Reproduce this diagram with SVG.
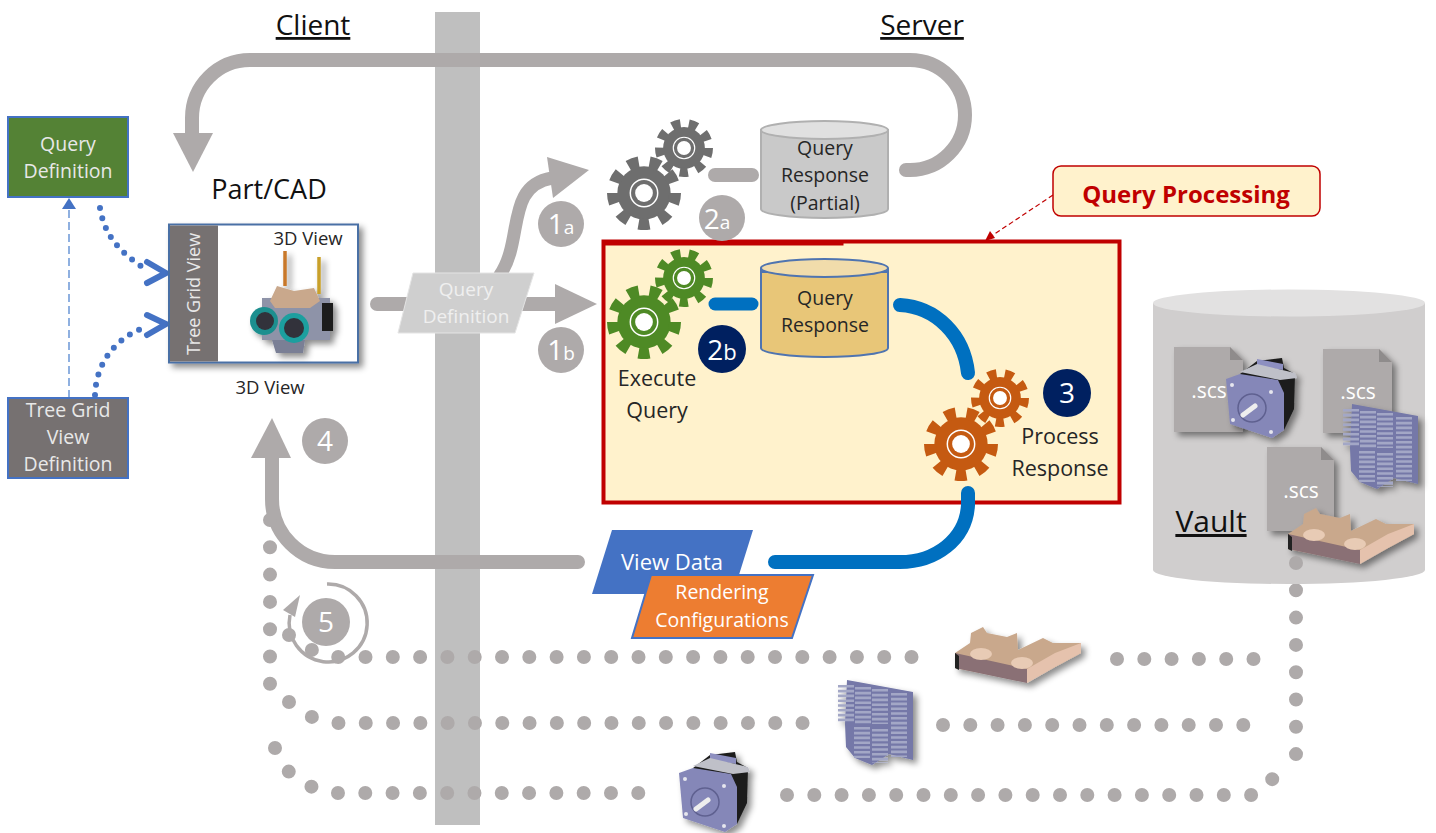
<svg xmlns="http://www.w3.org/2000/svg" width="1436" height="833" viewBox="0 0 1436 833">
<style>
text{font-family:"Open Sans","Noto Sans","Liberation Sans",sans-serif;text-anchor:middle}
.g{fill:none;stroke:#aeaaaa;stroke-width:14;stroke-linecap:round}
.bl{fill:none;stroke:#0070c0;stroke-width:14;stroke-linecap:round}
.ah{fill:#aeaaaa}
.dot{fill:none;stroke:#aeaaaa;stroke-width:14;stroke-linecap:round;stroke-dasharray:0 27.3}
.bdot{fill:none;stroke:#4472c4;stroke-width:6;stroke-linecap:round;stroke-dasharray:0 10.4}
.chev{fill:none;stroke:#4472c4;stroke-width:6;stroke-linecap:round;stroke-linejoin:miter}
.t20{font-size:19.5px;fill:#262626}
.t22{font-size:21.5px;fill:#262626}
.wt{font-size:19.5px;fill:#e8e8e8}
.num{font-size:28px;fill:#fff}
.sub{font-size:19px}
.head{font-size:28px;fill:#111;text-decoration:underline}
.scs{font-size:21px;fill:#fff}
.doc{fill:#aeaaaa}
.fold{fill:#8f8c8c}
.fin{fill:none;stroke:#a3a7c6;stroke-width:16;stroke-dasharray:2.6 2.2}
</style>
<defs>
<filter id="sh" x="-30%" y="-30%" width="170%" height="170%"><feDropShadow dx="4" dy="4" stdDeviation="3" flood-color="#000" flood-opacity=".45"/></filter>
<symbol id="gear" viewBox="-100 -100 200 200" overflow="visible">
<circle r="72" fill="currentColor"/>
<circle r="84" fill="none" stroke="currentColor" stroke-width="32" stroke-dasharray="29.3 29.3"/>
<circle r="37" fill="none" stroke="#fff" stroke-width="4"/>
<circle r="24" fill="#fff"/>
</symbol>
<g id="motor" filter="url(#sh)">
<path d="M32,3 L57,0 L59,10 L70,16 L69,51 L59,72 L30,50 L15,16Z" fill="#1c1c1c"/>
<path d="M32,1 L58,6 L58,12 L32,8Z" fill="#8d8fc0"/>
<path d="M15,14 L32,6 L70,15 L72,20 L55,22Z" fill="#bfc0c8"/>
<path d="M1,21 L15,16 L53,22 L59,35 L59,72 L47,80 L5,66Z" fill="#8587b8"/>
<circle cx="27" cy="50" r="14" fill="none" stroke="#5f6190" stroke-width="1.5"/>
<path d="M18,57 L30,48" stroke="#eee" stroke-width="5" stroke-linecap="round"/>
<g fill="#e6e6ee"><circle cx="7" cy="27" r="2"/><circle cx="46" cy="34" r="2"/><circle cx="8" cy="62" r="2"/><circle cx="46" cy="74" r="2"/></g>
</g>
<g id="board" filter="url(#sh)">
<path d="M10,0 L76,12 L76,80 L52,74 L35,85 L18,78 L9,67 L8,44Z" fill="#7478a8"/>
<path class="fin" d="M9,5 V42"/><path class="fin" d="M26,7 V45"/><path class="fin" d="M43,9 V44"/><path class="fin" d="M62,13 V77"/><path class="fin" d="M25,47 V78"/><path class="fin" d="M43,49 V83"/>
</g>
<g id="bracket" filter="url(#sh)">
<path d="M0,26 L15,16 L16,6 L28,0 L32,6 L52,10 L62,6 L63,23 L88,11 L98,16 L126,16 L126,26 L100,40 L72,55 L0,41Z" fill="#c9a88c"/>
<path d="M0,26 L72,42 L72,56 L0,41Z" fill="#8a7074"/>
<path d="M72,42 L100,26 L126,16 L126,26 L100,40 L72,56Z" fill="#e5c2ad"/>
<path d="M0,26 L4,29 L4,43 L0,41Z" fill="#222"/>
<ellipse cx="26" cy="27" rx="11" ry="6" fill="#e8cbb5"/><ellipse cx="67" cy="36" rx="11" ry="6" fill="#e8cbb5"/>
</g>
</defs>

<rect id="divider" x="435" y="12" width="45" height="813" fill="#bfbfbf"/>

<g id="box-query-processing"><rect x="603.500" y="241.500" width="516" height="261" fill="#fff2cc" stroke="#c00000" stroke-width="4"/></g>

<g id="connectors">
<path class="g" d="M906,170 H910 A55,55 0 0 0 910,60 H250 A58,58 0 0 0 192,118 V135"/>
<polygon class="ah" points="173,133 213,133 193,172"/>
<path class="g" d="M715,175 H752"/>
<path class="bl" style="stroke-width:13" d="M715,304 H752"/>
<path class="bl" d="M900,305 C936,307 964,335 968,373"/>
<path class="bl" d="M968,493 V505 C966,540 935,562 900,562 H775"/>
<path class="g" d="M377,304 H558"/>
<polygon class="ah" points="555,284 555,324 597,304"/>
<path class="g" style="stroke-width:13" d="M500,275 C524,240 505,186 552,178"/>
<polygon class="ah" points="547,157 553,198 589,170"/>
<path class="g" d="M578,562 H335 A63,63 0 0 1 272,499 V455"/>
<polygon class="ah" points="251,458 291,458 272,418"/>
<path class="dot" d="M270,520 V711"/>
<path class="dot" d="M289,635 L312,650 L338,657 H915"/>
<path class="dot" d="M289,702 L312,717 L338,723 H805"/>
<path class="dot" d="M275,748 L289,772 L312,787 L338,793 H665"/>
<path class="dot" d="M1117,659 H1255"/>
<path class="dot" d="M943,725 H1258"/>
<path class="dot" d="M787,795 H1255 L1280,772"/>
<path class="dot" d="M1296,563 V755"/>
<path d="M327,584 A39,39 0 1 1 290,615" fill="none" stroke="#aeaaaa" stroke-width="3.500"/>
<polygon class="ah" points="300,595 283,610 295,617"/>
<path d="M69,398 V208" fill="none" stroke="#8fb0e0" stroke-width="2" stroke-dasharray="8 4"/>
<polygon points="69,198 62,209 76,209" fill="#4472c4"/>
<path class="bdot" d="M100,208 C104,232 116,250 144,268"/>
<path class="chev" d="M147,262 L166,273 L147,283"/>
<path class="bdot" d="M95,395 C96,365 113,340 143,328"/>
<path class="chev" d="M147,315 L166,324 L147,335"/>
<path d="M1053,195 L990,237" fill="none" stroke="#c00000" stroke-width="1.200" stroke-dasharray="5 3"/>
<polygon points="985,241 995,238 990,231" fill="#c00000"/>
</g>

<g id="query-definition-box"><rect x="8" y="117" width="120" height="80" fill="#548235" stroke="#4472c4" stroke-width="2"/><text class="wt" x="68" y="151">Query</text><text class="wt" x="68" y="178">Definition</text></g>
<g id="tree-grid-definition-box"><rect x="8" y="398" width="120" height="80" fill="#767171" stroke="#4472c4" stroke-width="2"/><text class="wt" x="68" y="417">Tree Grid</text><text class="wt" x="68" y="444">View</text><text class="wt" x="68" y="471">Definition</text></g>

<g id="part-cad">
<text x="269" y="199" font-size="27" fill="#111">Part/CAD</text>
<rect x="169" y="224.500" width="189" height="138" fill="#fff" stroke="#4a6fa5" stroke-width="2" filter="url(#sh)"/>
<rect x="170" y="225.500" width="48" height="136" fill="#767171"/>
<text transform="translate(200,294) rotate(-90)" font-size="18" fill="#e8e8e8">Tree Grid View</text>
<text class="t20" x="308" y="245" style="font-size:18.500px">3D View</text>
<g filter="url(#sh)">
<path d="M285,251 V286" stroke="#c8782a" stroke-width="3.500"/><path d="M319,257 V294" stroke="#c8a02a" stroke-width="3.500"/>
<rect x="262" y="298" width="68" height="42" fill="#8e93a8"/>
<path d="M322,303 H333 V331 H322Z" fill="#1c1c1c"/>
<path d="M270,301 L277,286 L294,291 L314,288 L320,301 L310,308 H275Z" fill="#c9a88c"/>
<path d="M272,340 H305 L303,353 H276Z" fill="#7a7f95"/>
<circle cx="264" cy="321" r="14" fill="#1d8f8f"/><circle cx="294" cy="328" r="15" fill="#1d9f9f"/>
<circle cx="265" cy="321" r="9" fill="#30323a"/><circle cx="294" cy="328" r="10" fill="#30323a"/>
</g>
<text class="t20" x="270" y="394" style="font-size:18.500px">3D View</text>
</g>

<g id="query-def-shape"><polygon points="413,273 534,273 515,333 398,333" fill="#cfcfcf" stroke="#e4e4e4"/><text x="466" y="296" font-size="19" fill="#efefef">Query</text><text x="466" y="323" font-size="19" fill="#efefef">Definition</text></g>

<g id="gears-a" style="color:#6e6e6e"><use href="#gear" x="607" y="156" width="74" height="74"/><use href="#gear" x="655" y="119" width="58" height="58"/></g>
<g id="response-partial">
<path d="M761,130 V209 A63.500,9 0 0 0 888,209 V130Z" fill="#c9c9c9" stroke="#b0b0b0" stroke-width="2"/>
<ellipse cx="824.500" cy="130" rx="63.500" ry="9" fill="#e0e0e0" stroke="#b0b0b0" stroke-width="2"/>
<text class="t20" x="825" y="155">Query</text><text class="t20" x="825" y="182">Response</text><text class="t20" x="825" y="210">(Partial)</text>
</g>
<g id="badge-2a"><circle cx="722" cy="218" r="23" fill="#aeaaaa"/></g>
<rect x="603.500" y="241.500" width="240" height="4" fill="#c00000"/>
<text class="num" x="717" y="229" id="label-2a">2<tspan class="sub">a</tspan></text>

<g id="gears-b" style="color:#4e8a25"><use href="#gear" x="607" y="285" width="74" height="74"/><use href="#gear" x="655" y="249" width="58" height="58"/>
<text class="t22" x="657" y="386">Execute</text><text class="t22" x="657" y="418">Query</text></g>
<g id="query-response">
<path d="M761,272 V348 A63.500,9 0 0 0 888,348 V272Z" fill="#e8c678" stroke="#4f74b0" stroke-width="2"/>
<ellipse cx="824.500" cy="268" rx="63.500" ry="9" fill="#f1dcab" stroke="#4f74b0" stroke-width="2"/>
<path d="M761,268 V272" stroke="#4f74b0" stroke-width="2"/><path d="M888,268 V272" stroke="#4f74b0" stroke-width="2"/>
<text class="t20" x="825" y="305">Query</text><text class="t20" x="825" y="332">Response</text>
</g>
<g id="badge-2b"><circle cx="722" cy="349" r="24" fill="#002060"/><text class="num" x="722" y="360">2<tspan class="sub" style="font-size:22px">b</tspan></text></g>
<g id="gears-c" style="color:#c55a11"><use href="#gear" x="924" y="407" width="74" height="74"/><use href="#gear" x="971" y="369" width="58" height="58"/>
<text class="t22" x="1060" y="444">Process</text><text class="t22" x="1060" y="476">Response</text></g>
<g id="badge-3"><circle cx="1067" cy="393" r="24" fill="#002060"/><text class="num" x="1067" y="403">3</text></g>

<g id="callout"><rect x="1053" y="166" width="267" height="50" rx="8" fill="#fff2cc" stroke="#c00000" stroke-width="1.500"/><text x="1186" y="203" font-size="24" font-weight="700" fill="#c00000">Query Processing</text></g>

<g id="badge-1a"><circle cx="561" cy="224" r="23" fill="#aeaaaa"/><text class="num" x="561" y="234">1<tspan class="sub">a</tspan></text></g>
<g id="badge-1b"><circle cx="561" cy="350" r="23" fill="#aeaaaa"/><text class="num" x="561" y="360">1<tspan class="sub">b</tspan></text></g>
<g id="badge-4"><circle cx="325" cy="441" r="23" fill="#aeaaaa"/><text class="num" x="325" y="451">4</text></g>
<g id="badge-5"><circle cx="326" cy="622" r="24" fill="#aeaaaa"/><text class="num" x="326" y="632">5</text></g>

<g id="view-data"><polygon points="612,530 753,530 733,594 592,594" fill="#4472c4"/><text x="672" y="570" font-size="22" fill="#fff">View Data</text></g>
<g id="rendering-config"><polygon points="651,575 813,575 792,638 632,638" fill="#ed7d31" stroke="#4472c4" stroke-width="2"/><text x="722" y="599" font-size="19.500" fill="#fff">Rendering</text><text x="722" y="627" font-size="19.500" fill="#fff">Configurations</text></g>

<g id="vault">
<path d="M1153,303 V570 A136,14 0 0 0 1425,570 V303Z" fill="#d0cece"/>
<ellipse cx="1289" cy="303" rx="136" ry="13.500" fill="#e2e1e1"/>
<g filter="url(#sh)"><path class="doc" d="M1174,347 H1230 L1243,360 V432 H1174Z"/></g>
<path class="fold" d="M1230,347 L1243,360 H1230Z"/>
<text class="scs" x="1209" y="398">.scs</text>
<g filter="url(#sh)"><path class="doc" d="M1323,349 H1379 L1392,362 V433 H1323Z"/></g>
<path class="fold" d="M1379,349 L1392,362 H1379Z"/>
<text class="scs" x="1358" y="399">.scs</text>
<g filter="url(#sh)"><path class="doc" d="M1267,447 H1321 L1334,460 V531 H1267Z"/></g>
<path class="fold" d="M1321,447 L1334,460 H1321Z"/>
<text class="scs" x="1301" y="498">.scs</text>
<text x="1211" y="532" font-size="30" fill="#111" text-decoration="underline">Vault</text>
<use href="#motor" x="1225" y="358"/>
<use href="#board" x="1342" y="404"/>
<use href="#bracket" x="1288" y="508"/>
<circle cx="1296" cy="563" r="7" fill="#aeaaaa"/>
</g>

<g id="part-bracket"><use href="#bracket" x="955" y="627"/></g>
<g id="part-board"><use href="#board" x="837" y="680"/></g>
<g id="part-motor"><use href="#motor" x="678" y="752"/></g>

<text class="head" x="313" y="35" id="client">Client</text>
<text class="head" x="922" y="35" id="server">Server</text>
</svg>
